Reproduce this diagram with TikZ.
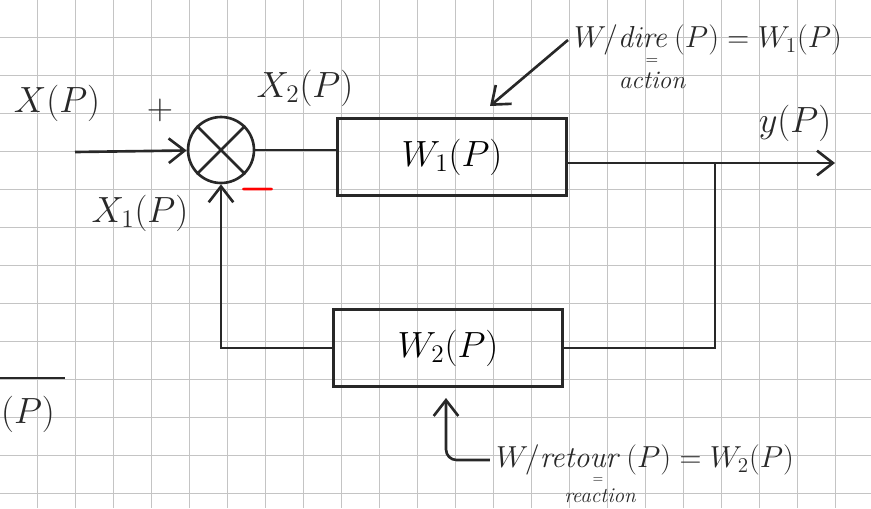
\documentclass[tikz,border=0pt]{standalone}
\usepackage{amsmath,amssymb}
\usetikzlibrary{arrows.meta}
\definecolor{ink}{RGB}{40,40,40}
\definecolor{paper}{RGB}{196,196,196}
\tikzset{
  sig/.style={draw=ink,line width=1.5pt,-{Straight Barb[length=9pt,width=14pt,line width=1.5pt]}},
  wire/.style={draw=ink,line width=1.5pt},
  block/.style={draw=ink,line width=1.5pt,rectangle,minimum width=4.58cm,minimum height=1.54cm,font=\huge},
  lbl/.style={text=ink,font=\huge},
  note/.style={text=ink,font=\LARGE},
}

\begin{document}
\begin{tikzpicture}[x=0.02cm,y=-0.02cm]
\useasboundingbox (0,0) rectangle (871,508);
% squared paper
\foreach \i in {1,...,23} \draw[paper,line width=0.5pt] (38*\i-1,0)--(38*\i-1,508);
\foreach \j in {1,...,13} \draw[paper,line width=0.5pt] (0,38*\j-1)--(871,38*\j-1);

% blocks and summing point
\node[draw=ink,line width=1.5pt,circle,minimum size=1.32cm] (sum) at (221,150) {};
\draw[wire] (sum.north west)--(sum.south east) (sum.north east)--(sum.south west);
\node[block] (w1) at (452,157) {$W_1(P)$};
\node[block] (w2) at (448,348) {$W_2(P)$};

% signals
\coordinate (in) at (75,152);
\coordinate (out) at (835,163);
\coordinate (branch) at (715,163);
\draw[sig] (in)--(sum);
\draw[wire] (sum.east)--(sum.east -| w1.west);
\draw[sig] (w1.east |- out)--(out);
\draw[wire] (branch) |- (w2.east);
\draw[sig] (w2.west) -| (sum.south);

\node[lbl] (x) at (57,103) {$X(P)$};
\node[lbl] (plus) at (160,110) {$+$};
\node[text=red,font=\Huge] (minus) at (258,190) {$\boldsymbol{-}$};
\node[lbl] (x2) at (305,88) {$X_2(P)$};
\node[lbl] (x1) at (140,213) {$X_1(P)$};
\node[lbl] (y) at (795,123) {$y(P)$};

% notes
\node[note] (dire) at (708,40) {$W/\mathit{dire}\,(P)=W_1(P)$};
\node[text=ink,font=\small] (eq1) at (652,62) {$=$};
\node[text=ink,font=\Large\itshape] (act) at (652,80) {action};
\coordinate (t1) at (490,106);
\draw[sig] (dire.west)--(t1);

\node[note] (ret) at (645,460) {$W/\mathit{retour}\,(P)=W_2(P)$};
\node[text=ink,font=\scriptsize,inner sep=0pt] (eq2) at (598,480) {$=$};
\node[text=ink,font=\large\itshape,inner sep=1pt] (react) at (600,496) {reaction};
\coordinate (t2) at (446,398);
\draw[sig,rounded corners=6pt] (ret.west) -| (t2);

% fragment at the left edge
\draw[wire] (0,378)--(65,378);
\node[lbl] (pfrag) at (28,414) {$(P)$};
\end{tikzpicture}
\end{document}
